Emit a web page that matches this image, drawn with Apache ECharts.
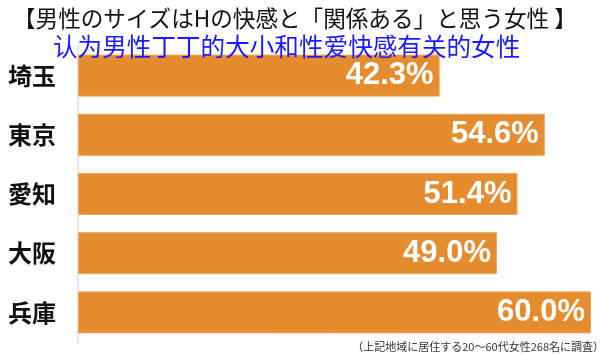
<!DOCTYPE html>
<html>
<head>
<meta charset="utf-8">
<script src="https://cdn.jsdelivr.net/npm/echarts@6/dist/echarts.min.js"></script>
<style>
  html, body { margin: 0; padding: 0; background: #fff; }
  #chart { width: 600px; height: 354px; }
</style>
</head>
<body>
<div id="chart"></div>
<script>
// 地域と割合
const regions = ['埼玉', '東京', '愛知', '大阪', '兵庫'];
const shares = [42.3, 54.6, 51.4, 49.0, 60.0];

const titleText = '【男性のサイズはHの快感と「関係ある」と思う女性 】';
const subText = '认为男性丁丁的大小和性爱快感有关的女性';
const noteText = '（上記地域に居住する20～60代女性268名に調査）';

const chart = echarts.init(document.getElementById('chart'));

const option = {
  animation: false,
  backgroundColor: '#fff',
  title: [
    {
      text: titleText,
      left: 8,
      top: 2,
      textStyle: {
        color: '#111',
        fontSize: 22.6,
        fontWeight: 'normal',
        fontFamily: 'Noto Sans CJK JP',
      },
    },
    {
      text: subText,
      left: 48,
      top: 29,
      textStyle: {
        color: '#1a1aff',
        fontSize: 24.6,
        fontWeight: 'normal',
        fontFamily: 'Noto Sans CJK SC',
      },
    },
  ],
  graphic: [
    {
      type: 'text',
      right: -4,
      top: 341,
      style: {
        text: noteText,
        fill: '#333',
        font: '11px "Noto Sans CJK JP"',
      },
    },
  ],
  grid: {
    left: 78,
    right: 9,
    top: 46,
    height: 296,
    containLabel: false,
  },
  xAxis: {
    type: 'value',
    min: 0,
    max: 60,
    show: false,
  },
  yAxis: {
    type: 'category',
    data: regions,
    inverse: true,
    axisTick: { show: false },
    axisLine: { show: true, lineStyle: { color: '#e6e6e6', width: 2 } },
    axisLabel: {
      align: 'left',
      margin: 70,
      color: '#111',
      fontSize: 24,
      fontWeight: 'bold',
      fontFamily: 'Noto Sans CJK JP',
    },
  },
  series: [
    {
      type: 'bar',
      data: shares,
      barWidth: 42,
      itemStyle: {
        color: '#e58c2f',
        borderColor: '#f0a55a',
        borderWidth: 1,
      },
      label: {
        show: true,
        position: 'insideRight',
        distance: 6,
        formatter: (p) => p.value.toFixed(1) + '%',
        color: '#fff',
        fontSize: 31,
        fontWeight: 'bold',
        fontFamily: 'Liberation Sans',
      },
    },
  ],
};

chart.setOption(option);
</script>
</body>
</html>
